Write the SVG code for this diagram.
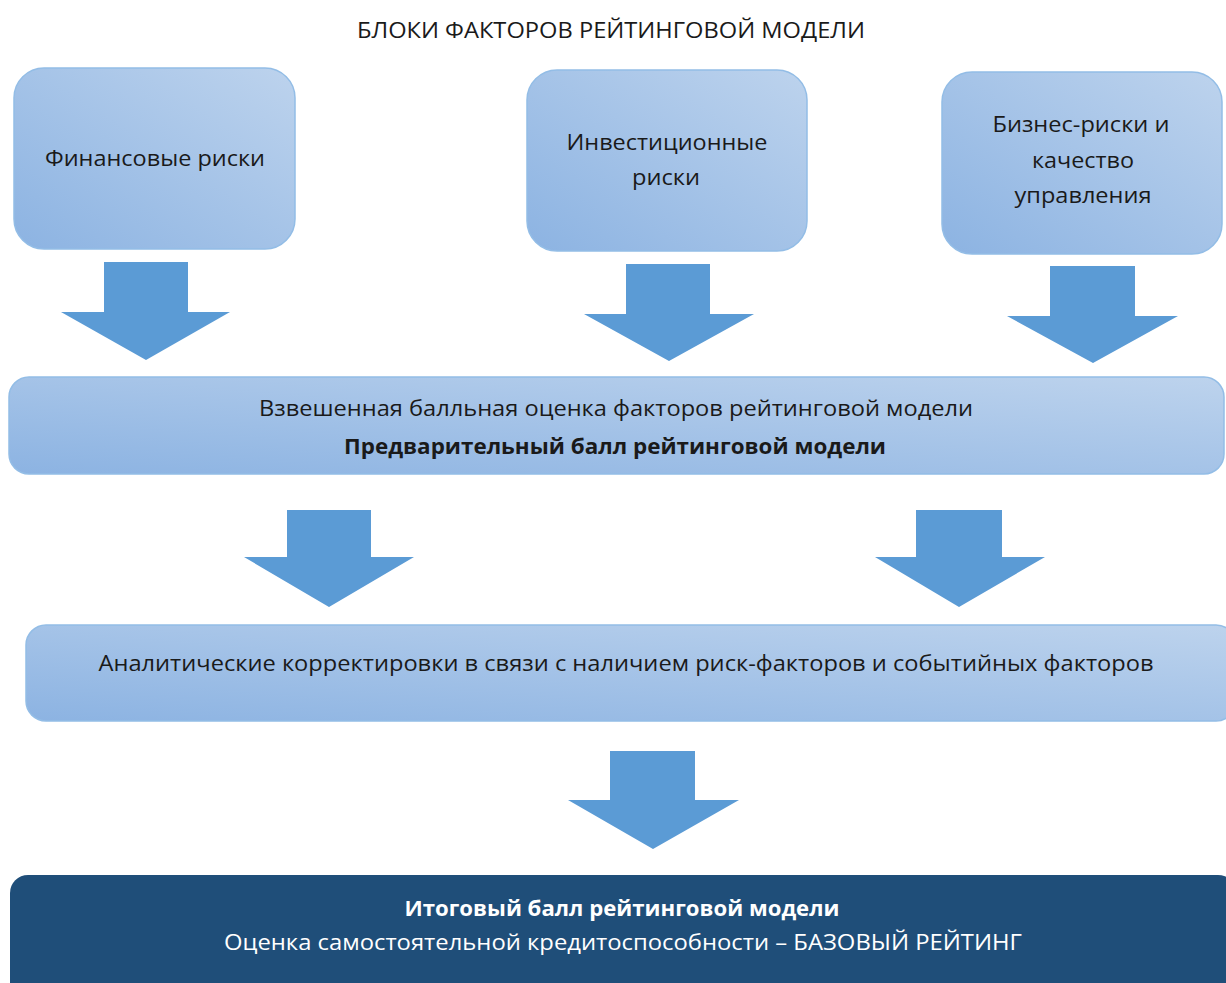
<svg xmlns="http://www.w3.org/2000/svg" width="1226" height="983" viewBox="0 0 1226 983">
<defs>
<linearGradient id="g" x1="0" y1="1" x2="1" y2="0">
<stop offset="0" stop-color="#8cb3e2"/>
<stop offset="1" stop-color="#bdd3ed"/>
</linearGradient>
<style>
.box{fill:url(#g);stroke:#93bde6;stroke-width:1.5}
.arr{fill:#5b9bd5}
.t{font-family:"Open Sans","Liberation Sans",sans-serif;font-size:21px;fill:#1a1a1a;text-anchor:middle}
.b{font-weight:bold}
.w{fill:#ffffff}
</style>
</defs>
<rect width="1226" height="983" fill="#ffffff"/>
<text class="t" x="611" y="38" font-size="22" textLength="508" lengthAdjust="spacingAndGlyphs">БЛОКИ ФАКТОРОВ РЕЙТИНГОВОЙ МОДЕЛИ</text>
<g id="n1">
<rect class="box" x="14" y="68" width="281" height="181" rx="30"/>
<text class="t" x="155" y="166" textLength="220" lengthAdjust="spacingAndGlyphs">Финансовые риски</text>
</g>
<g id="n2">
<rect class="box" x="527" y="70" width="280" height="181" rx="30"/>
<text class="t" x="667" y="150" textLength="201" lengthAdjust="spacingAndGlyphs">Инвестиционные</text>
<text class="t" x="666" y="185" textLength="68" lengthAdjust="spacingAndGlyphs">риски</text>
</g>
<g id="n3">
<rect class="box" x="942" y="72" width="280" height="182" rx="30"/>
<text class="t" x="1081" y="132" textLength="177" lengthAdjust="spacingAndGlyphs">Бизнес-риски и</text>
<text class="t" x="1083" y="168" textLength="102" lengthAdjust="spacingAndGlyphs">качество</text>
<text class="t" x="1083" y="203" textLength="137" lengthAdjust="spacingAndGlyphs">управления</text>
</g>
<g id="n4">
<rect class="box" x="9" y="377" width="1215" height="97" rx="20"/>
<text class="t" x="616" y="416" textLength="714" lengthAdjust="spacingAndGlyphs">Взвешенная балльная оценка факторов рейтинговой модели</text>
<text class="t b" x="615" y="454" textLength="542" lengthAdjust="spacingAndGlyphs">Предварительный балл рейтинговой модели</text>
</g>
<g id="n5">
<rect class="box" x="26" y="625" width="1210" height="96" rx="20"/>
<text class="t" x="626" y="671" textLength="1055" lengthAdjust="spacingAndGlyphs">Аналитические корректировки в связи с наличием риск-факторов и событийных факторов</text>
</g>
<g id="n6">
<rect x="10" y="875" width="1226" height="130" rx="18" fill="#1f4e79"/>
<text class="t b w" x="622" y="916" textLength="435" lengthAdjust="spacingAndGlyphs">Итоговый балл рейтинговой модели</text>
<text class="t w" x="623" y="950" textLength="798" lengthAdjust="spacingAndGlyphs">Оценка самостоятельной кредитоспособности – БАЗОВЫЙ РЕЙТИНГ</text>
</g>
<g id="connectors">
<polygon class="arr" points="104,262 188,262 188,312 230,312 146,360 61,312 104,312"/>
<polygon class="arr" points="626,264 710,264 710,314 754,314 669,361 584,314 626,314"/>
<polygon class="arr" points="1050,266 1135,266 1135,316 1178,316 1093,363 1007,316 1050,316"/>
<polygon class="arr" points="287,510 371,510 371,557 414,557 329,607 244,557 287,557"/>
<polygon class="arr" points="916,510 1002,510 1002,557 1045,557 959,607 875,557 916,557"/>
<polygon class="arr" points="610,751 695,751 695,800 739,800 653,849 568,800 610,800"/>
</g>
</svg>
